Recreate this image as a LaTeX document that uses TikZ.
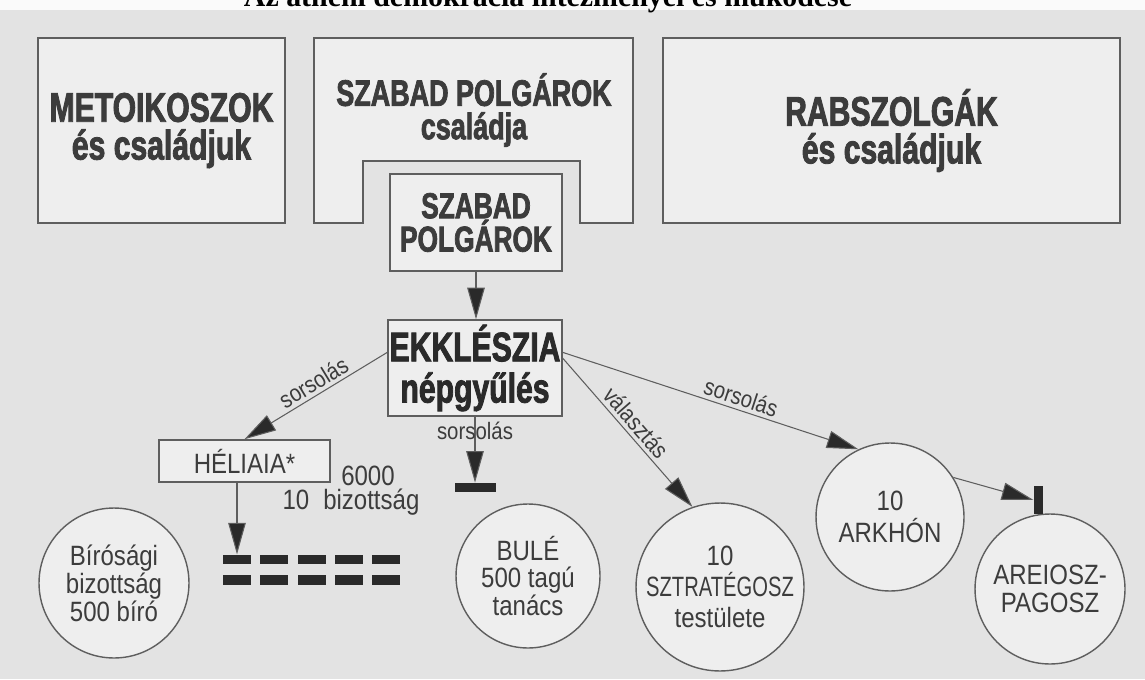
\documentclass[tikz,border=0pt]{standalone}
\usepackage{fontspec}
\setmainfont{Liberation Serif}
\newfontfamily\condblack[FakeStretch=0.73, BoldFeatures={FakeBold=2}]{Liberation Sans}
\newfontfamily\condreg[FakeStretch=0.86]{Liberation Sans}
\usetikzlibrary{arrows.meta,calc}
\definecolor{bgc}{HTML}{E3E3E3}
\definecolor{boxc}{HTML}{EEEEEE}
\definecolor{linec}{HTML}{5E5E5E}
\definecolor{txtc}{HTML}{3C3C3C}
\definecolor{darkc}{HTML}{2A2A2A}
\newcommand\bigf{\condblack\bfseries\fontsize{23.5}{21.5}\selectfont}
\newcommand\midf{\condblack\bfseries\fontsize{21}{19}\selectfont}
\newcommand\innerfnt{\condblack\bfseries\fontsize{20.5}{19}\selectfont}
\newcommand\ekf{\condblack\bfseries\fontsize{23.5}{23.5}\selectfont}
\newcommand\cirf{\condreg\fontsize{15.9}{14}\selectfont}
\newcommand\labf{\condreg\fontsize{13.5}{14}\selectfont}
\newcommand\narrowcaps[1]{\scalebox{0.84}[1]{#1}}
\tikzset{
  box/.style={draw=linec, line width=0.9pt, fill=boxc, inner sep=0pt, align=center, text=txtc},
  circ/.style={circle, draw=linec, line width=0.8pt, fill=boxc, inner sep=0pt, align=center, text=txtc, font=\cirf},
  conn/.style={draw=linec, line width=0.6pt, -{Triangle[length=18pt,width=10pt,fill=darkc]}},
  lab/.style={font=\labf, text=txtc, inner sep=2pt},
  barst/.style={fill=darkc, inner sep=0pt},
}
\begin{document}
\begin{tikzpicture}[x=0.02cm,y=-0.02cm]
\useasboundingbox (0,0) rectangle (1145,679);
\fill[bgc] (0,0) rectangle (1145,679);
\fill[white!96!gray] (0,0) rectangle (1145,10);
\node[anchor=base, font=\bfseries\fontsize{17}{18}\selectfont, inner sep=0pt] (title) at (548,7) {Az athéni demokrácia intézményei és működése};

% top boxes
\node[box, minimum width=4.94cm, minimum height=3.70cm, font=\bigf] (meto) at (161.5,130.5) {METOIKOSZOK\\és családjuk};
\node[box, minimum width=9.14cm, minimum height=3.70cm, font=\bigf] (rab) at (891.5,130.5) {RABSZOLGÁK\\és családjuk};
\filldraw[draw=linec, line width=0.9pt, fill=boxc] (314,38) -- (633,38) -- (633,223) -- (580,223) -- (580,161) -- (363,161) -- (363,223) -- (314,223) -- cycle;
\node[align=center, text=txtc, font=\midf, inner sep=0pt] (szcsal) at (474,110) {SZABAD POLGÁROK\\családja};
\node[box, minimum width=3.44cm, minimum height=1.94cm, font=\innerfnt] (insz) at (476,222.5) {SZABAD\\POLGÁROK};

% ekklesia
\node[box, minimum width=3.48cm, minimum height=1.92cm, font=\ekf, text=darkc] (ek) at (475,368) {EKKLÉSZIA\\népgyűlés};
\node[box, minimum width=3.42cm, minimum height=0.84cm, font=\cirf] (hel) at (244.5,461) {HÉLIAIA*};

% circles
\node[circ, minimum size=3.0cm, font=\condreg\fontsize{15.9}{13.2}\selectfont] (bir) at (114,583) {Bírósági\\bizottság\\500 bíró};
\node[circ, minimum size=2.88cm, font=\condreg\fontsize{15.9}{15}\selectfont] (bule) at (528,576) {BULÉ\\500 tagú\\tanács};
\node[circ, minimum size=3.04cm, font=\condreg\fontsize{15.9}{17.5}\selectfont] (szt) at (720,587) {10\\\narrowcaps{SZTRATÉGOSZ}\\testülete};
\node[circ, minimum size=2.96cm, font=\condreg\fontsize{15.9}{18}\selectfont] (ark) at (890,517) {10\\ARKHÓN};
\node[circ, minimum size=3.0cm, font=\condreg\fontsize{15.9}{16}\selectfont] (are) at (1050,589) {AREIOSZ-\\PAGOSZ};

% bars
\node[barst, minimum width=0.82cm, minimum height=0.18cm] (bar1) at (475,487.5) {};
\node[barst, minimum width=0.18cm, minimum height=0.56cm, anchor=south] (bar2) at (are.99) {};
\foreach \i/\xx in {1/237,2/274.25,3/311.5,4/348.75,5/386}{
  \node[barst, minimum width=0.56cm, minimum height=0.19cm] (d\i) at (\xx,559.5) {};
  \node[barst, minimum width=0.56cm, minimum height=0.2cm] (e\i) at (\xx,580) {};
}

% labels
\node[font=\cirf, text=txtc] (n6000) at (368,476) {6000};
\node[font=\cirf, text=txtc] (n10b) at (351,502) {10\enspace bizottság};

% connectors
\coordinate (ekL) at ($(ek.north west)!0.34!(ek.south west)$);
\coordinate (ekR) at ($(ek.north east)!0.34!(ek.south east)$);
\coordinate (ekR2) at ($(ek.north east)!0.40!(ek.south east)$);
\draw[conn] (insz.south) -- (insz.south |- ek.north);
\draw[conn] (ekL) -- node[lab, sloped, above, pos=0.47] {sorsolás} (hel.north);
\draw[conn] (ek.south) -- node[lab, pos=0.22] {sorsolás} (bar1.north);
\draw[conn] (ekR2) -- node[lab, sloped, above, pos=0.49] {választás} (szt.109);
\draw[conn] (ekR) -- node[lab, sloped, above, pos=0.59] {sorsolás} (ark.115);
\draw[conn] (ark.32) -- (bar2.west);
\draw[conn] (hel.south -| d1.north) -- (d1.north);
\end{tikzpicture}
\end{document}
